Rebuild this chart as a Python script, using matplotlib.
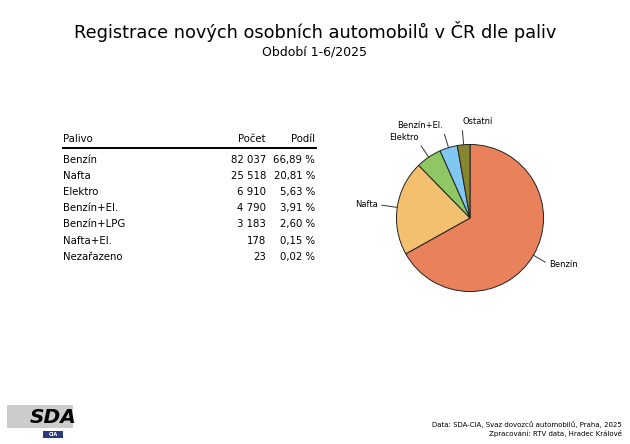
import numpy as np
import matplotlib.pyplot as plt
from matplotlib.patches import Rectangle

plt.rcParams['font.family'] = ['DejaVu Sans']

fuels = ['Benzín', 'Nafta', 'Elektro', 'Benzín+El.', 'Benzín+LPG', 'Nafta+El.', 'Nezařazeno']
counts = [82037, 25518, 6910, 4790, 3183, 178, 23]
shares = [66.89, 20.81, 5.63, 3.91, 2.60, 0.15, 0.02]

pie_labels = ['Benzín', 'Nafta', 'Elektro', 'Benzín+El.', 'Ostatní']
pie_values = counts[:4] + [sum(counts[4:])]
pie_colors = ['#E9815A', '#F2C06E', '#8EC763', '#80C8F2', '#87862F']

W, H = 630, 444
fig = plt.figure(figsize=(W / 100, H / 100), dpi=100)


def fx(px):
    return px / W


def fy(py):
    return 1 - py / H


fig.text(fx(315), fy(31), 'Registrace nových osobních automobilů v ČR dle paliv',
         ha='center', va='center', fontsize=12.75)
fig.text(fx(315), fy(52), 'Období 1-6/2025', ha='center', va='center', fontsize=9)

# table
fs = 7.3
fig.text(fx(63), fy(138.5), 'Palivo', ha='left', va='center', fontsize=fs)
fig.text(fx(266), fy(138.5), 'Počet', ha='right', va='center', fontsize=fs)
fig.text(fx(315), fy(138.5), 'Podíl', ha='right', va='center', fontsize=fs)
fig.add_artist(plt.Line2D([fx(63), fx(316)], [fy(147.7), fy(147.7)], color='black', lw=1.4))
for i, (f, c, s) in enumerate(zip(fuels, counts, shares)):
    y = fy(159.5 + i * 16.2)
    fig.text(fx(63), y, f, ha='left', va='center', fontsize=fs)
    fig.text(fx(266), y, f'{c:,}'.replace(',', ' '), ha='right', va='center', fontsize=fs)
    fig.text(fx(315), y, f'{s:.2f} %'.replace('.', ','), ha='right', va='center', fontsize=fs)

# pie
cx, cy, r = 470, 218, 75
ax = fig.add_axes([fx(cx - r), fy(cy + r), 2 * r / W, 2 * r / H])
wedges, _ = ax.pie(pie_values, colors=pie_colors, startangle=90, counterclock=False,
                   wedgeprops=dict(edgecolor='#222222', linewidth=0.7))
ax.set_xlim(-1.02, 1.02)
ax.set_ylim(-1.02, 1.02)
ax.axis('off')

# label: (distance, ha, va, line anchor on text box)
label_cfg = {
    'Benzín': (1.25, 'left', 'center', (0, 0.5)),
    'Nafta': (1.27, 'right', 'center', (1, 0.5)),
    'Elektro': (1.25, 'right', 'bottom', (1, 0)),
    'Benzín+El.': (1.25, 'right', 'bottom', (1, 0)),
    'Ostatní': (1.25, 'left', 'bottom', (0, 0)),
}
for w, lab in zip(wedges, pie_labels):
    ang = np.deg2rad((w.theta1 + w.theta2) / 2)
    dist, ha, va, rp = label_cfg[lab]
    ax.annotate(lab, xy=(np.cos(ang), np.sin(ang)),
                xytext=(dist * np.cos(ang), dist * np.sin(ang)),
                ha=ha, va=va, fontsize=6, annotation_clip=False,
                arrowprops=dict(arrowstyle='-', color='#333333', lw=0.7,
                                shrinkA=1, shrinkB=0, relpos=rp))

# footer
fig.text(fx(622), fy(425), 'Data: SDA-CIA, Svaz dovozců automobilů, Praha, 2025',
         ha='right', va='center', fontsize=5.0)
fig.text(fx(622), fy(433), 'Zpracování: RTV data, Hradec Králové',
         ha='right', va='center', fontsize=5.0)

# logo
fig.add_artist(Rectangle((fx(7), fy(428)), fx(66), 23 / H, color='#CCCCCC', lw=0))
fig.text(fx(30), fy(417), 'SDA', ha='left', va='center', fontsize=14.5,
         fontweight='heavy', style='italic', color='black')
fig.add_artist(Rectangle((fx(43), fy(438)), fx(20), 7 / H, color='#2B3A7A', lw=0))
fig.text(fx(53), fy(434.5), 'CIA', ha='center', va='center', fontsize=3.5,
         color='white', fontweight='bold')

fig.savefig('out.png', dpi=100)
